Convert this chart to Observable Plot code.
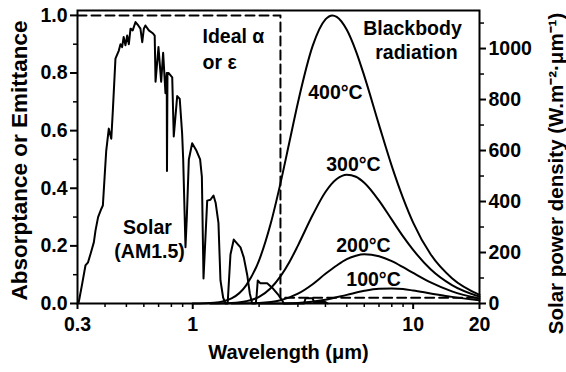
<!DOCTYPE html>
<html>
<head>
<meta charset="utf-8">
<script src="https://cdn.jsdelivr.net/npm/d3@7"></script>
<script src="https://cdn.jsdelivr.net/npm/@observablehq/plot@0.6"></script>
<style>
  html, body { margin: 0; padding: 0; background: white; }
  #chart svg, #chart svg text {
    font-family: "Liberation Sans", Arial, Helvetica, sans-serif !important;
    font-weight: 700 !important;
  }
</style>
</head>
<body>
<div id="chart"></div>
<script>
// ---- Data ----
// Solar AM1.5 spectrum, [wavelength µm, value on left (normalized) axis]
const solar = [
  [0.300,0],[0.304,0.005],[0.315,0.068],[0.326,0.132],[0.335,0.143],[0.344,0.173],
  [0.356,0.213],[0.362,0.253],[0.372,0.300],[0.385,0.329],[0.391,0.340],[0.399,0.450],
  [0.405,0.530],[0.416,0.607],[0.427,0.572],[0.434,0.670],[0.446,0.850],[0.462,0.878],
  [0.470,0.900],[0.478,0.890],[0.486,0.925],[0.495,0.896],[0.504,0.930],[0.513,0.900],
  [0.522,0.954],[0.534,0.948],[0.550,0.977],[0.566,0.965],[0.579,0.954],[0.590,0.907],
  [0.600,0.954],[0.610,0.965],[0.632,0.948],[0.661,0.937],[0.672,0.930],[0.678,0.770],
  [0.699,0.890],[0.719,0.770],[0.734,0.870],[0.752,0.730],[0.762,0.800],[0.764,0.460],
  [0.768,0.800],[0.778,0.800],[0.807,0.785],[0.820,0.580],[0.850,0.720],[0.873,0.710],
  [0.895,0.590],[0.905,0.500],[0.927,0.195],[0.940,0.300],[0.960,0.500],[0.994,0.556],
  [1.040,0.530],[1.080,0.500],[1.100,0.440],[1.119,0.087],[1.163,0.357],[1.203,0.360],
  [1.242,0.375],[1.270,0.350],[1.308,0.280],[1.336,0.080],[1.374,0.020],[1.408,0],
  [1.440,0],[1.483,0.170],[1.535,0.222],[1.591,0.208],[1.647,0.195],[1.704,0.160],
  [1.766,0.100],[1.815,0.035],[1.861,0],[1.930,0],[1.946,0.020],[1.972,0.080],
  [2.029,0.070],[2.176,0.070],[2.293,0.055],[2.457,0.028],[2.546,0.010],[2.590,0],
  [3.200,0],[3.250,0.018],[3.500,0.018],[3.550,0.005],[4.000,0.005],[4.100,0]
];
// Blackbody radiation curves, [wavelength µm, value on left axis]
const bb400 = [
  [1.0,0],[1.25,0.003],[1.5,0.018],[1.75,0.064],[2.0,0.150],[2.25,0.273],[2.5,0.417],
  [2.75,0.563],[3.0,0.697],[3.5,0.894],[4.0,0.986],[4.3,1.0],[4.5,0.995],[5.0,0.950],
  [5.5,0.876],[6.0,0.790],[7.0,0.620],[8.0,0.477],[9.0,0.366],[10,0.281],[12,0.171],
  [15,0.088],[20,0.030]
];
const bb300 = [
  [1.2,0],[1.5,0.002],[1.75,0.008],[2.0,0.023],[2.25,0.052],[2.5,0.094],[2.75,0.145],
  [3.0,0.201],[3.5,0.307],[4.0,0.387],[4.5,0.432],[5.0,0.447],[5.5,0.440],[6.0,0.419],
  [7.0,0.357],[8.0,0.291],[9.0,0.233],[10,0.186],[12,0.119],[15,0.064],[20,0.024]
];
const bb200 = [
  [1.5,0],[2.0,0.002],[2.5,0.011],[3.0,0.034],[3.5,0.067],[4.0,0.103],[4.5,0.132],
  [5.0,0.154],[5.5,0.166],[6.0,0.171],[7.0,0.164],[8.0,0.147],[9.0,0.126],[10,0.106],
  [12,0.073],[15,0.042],[20,0.017]
];
const bb100 = [
  [2.0,0],[2.5,0.0004],[3.0,0.002],[4.0,0.013],[5.0,0.030],[6.0,0.044],[7.0,0.051],
  [8.0,0.052],[9.0,0.050],[10,0.045],[12,0.035],[15,0.023],[20,0.011]
];
// Ideal selective absorber (dashed step)
const ideal = [[0.3,1.0],[2.5,1.0],[2.5,0.02],[20,0.02]];

// Tick values
const xMajor = [0.3, 1, 10, 20];
const xMinor = [0.4,0.5,0.6,0.7,0.8,0.9,2,3,4,5,6,7,8,9];
const leftTicks = [0,0.2,0.4,0.6,0.8,1.0];
const leftMinor = [0.1,0.3,0.5,0.7,0.9];
const rightTicks = [0,200,400,600,800,1000];
const rightMinor = [100,300,500,700,900,1100];
const K = 1130; // right-axis units (W·m⁻²·µm⁻¹) per left-axis unit

// Text annotations (position in data units)
const idealLabels = [
  {w:1.107, v:0.927, t:"Ideal α"},
  {w:1.107, v:0.837, t:"or ε"}
];
const labels = [
  {w:0.623, v:0.262, t:"Solar"},
  {w:0.637, v:0.178, t:"(AM1.5)"},
  {w:9.93, v:0.955, t:"Blackbody"},
  {w:10.35, v:0.872, t:"radiation"},
  {w:4.44, v:0.733, t:"400°C"},
  {w:5.36, v:0.480, t:"300°C"},
  {w:5.95, v:0.201, t:"200°C"},
  {w:6.61, v:0.083, t:"100°C"}
];

const xTitle = "Wavelength (μm)";
const yTitle = "Absorptance or Emittance";
const y2Title = "Solar power density (W.m⁻²·μm⁻¹)";

const X = d => d[0], Y = d => d[1];
const empty = () => "";
const B = {fontWeight: "bold", fill: "black"};

const chart = Plot.plot({
  width: 566,
  height: 372,
  marginLeft: 77,
  marginRight: 87,
  marginTop: 10,
  marginBottom: 69,
  x: {type: "log", domain: [0.3, 20]},
  y: {domain: [0, 1.017]},
  style: "font-family: 'Liberation Sans', Arial, Helvetica, sans-serif; font-weight: bold; background: white; color: black;",
  marks: [
    // data
    Plot.line(ideal, {x: X, y: Y, stroke: "black", strokeWidth: 2, strokeDasharray: "9,5"}),
    Plot.line(solar, {x: X, y: Y, stroke: "black", strokeWidth: 2, strokeLinejoin: "round"}),
    Plot.line(bb400, {x: X, y: Y, stroke: "black", strokeWidth: 2, curve: "monotone-x"}),
    Plot.line(bb300, {x: X, y: Y, stroke: "black", strokeWidth: 2, curve: "monotone-x"}),
    Plot.line(bb200, {x: X, y: Y, stroke: "black", strokeWidth: 2, curve: "monotone-x"}),
    Plot.line(bb100, {x: X, y: Y, stroke: "black", strokeWidth: 2, curve: "monotone-x"}),
    Plot.text(idealLabels, {x: "w", y: "v", text: "t", textAnchor: "start", fontSize: 19.5, ...B}),
    Plot.text(labels, {x: "w", y: "v", text: "t", textAnchor: "middle", fontSize: 19.5, ...B}),
    // frame & axes
    Plot.frame({stroke: "black", strokeWidth: 2}),
    Plot.axisX({ticks: xMajor, tickFormat: d => String(d), tickSize: 6, tickPadding: 8,
                fontSize: 19.5, fontWeight: "bold", strokeWidth: 2, label: null}),
    Plot.axisX({ticks: xMinor, tickFormat: empty, tickSize: 4, strokeWidth: 1.5, label: null}),
    Plot.axisY({ticks: leftTicks, tickFormat: d3.format(".1f"), tickSize: 7, tickPadding: 3,
                fontSize: 19.5, fontWeight: "bold", strokeWidth: 2, label: null}),
    Plot.axisY({ticks: leftMinor, tickFormat: empty, tickSize: 4, strokeWidth: 1.5, label: null}),
    Plot.axisY({anchor: "right", ticks: rightTicks.map(v => v / K),
                tickFormat: d => String(Math.round(d * K)), tickSize: 6, tickPadding: 3,
                fontSize: 19.5, fontWeight: "bold", strokeWidth: 2, label: null}),
    Plot.axisY({anchor: "right", ticks: rightMinor.map(v => v / K), tickFormat: empty,
                tickSize: 4, strokeWidth: 1.5, label: null}),
    // axis titles
    Plot.text([xTitle], {frameAnchor: "bottom", textAnchor: "middle", lineAnchor: "middle",
                         dx: 10, dy: 49, fontSize: 20, ...B}),
    Plot.text([yTitle], {frameAnchor: "left", rotate: -90, textAnchor: "middle", lineAnchor: "middle",
                         dx: -58, dy: 3.5, fontSize: 22.5, ...B}),
    Plot.text([y2Title], {frameAnchor: "right", rotate: -90, textAnchor: "middle", lineAnchor: "middle",
                          dx: 77, dy: 16.5, fontSize: 20.5, ...B})
  ]
});
document.getElementById("chart").appendChild(chart);
</script>
</body>
</html>
